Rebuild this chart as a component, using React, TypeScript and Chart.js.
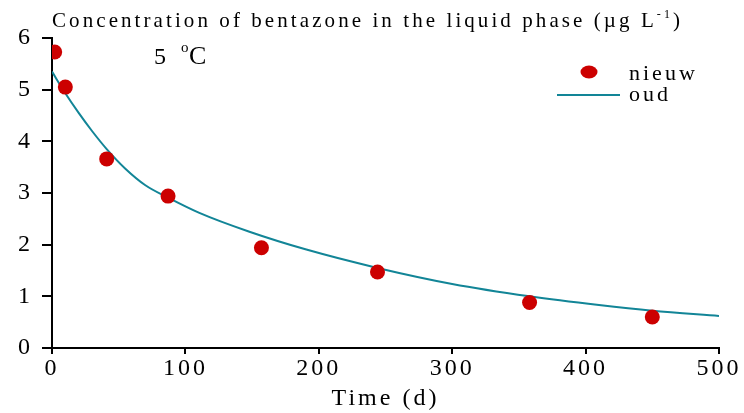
import React, { useEffect, useRef } from "react";
import { Chart, registerables } from "chart.js";

Chart.register(...registerables);

const titleMain = "Concentration of bentazone in the liquid phase (µg L";
const titleSup = "-1";
const titleEnd = ")";
const tempLabel = "5";
const seriesNames = ["nieuw", "oud"];
const xTicks = [0, 100, 200, 300, 400, 500];
const yTicks = [0, 1, 2, 3, 4, 5, 6];

// measured points (nieuw)
const nieuwT = [2, 10, 41, 87, 157, 244, 358, 450];
const nieuwC = [5.73, 5.05, 3.66, 2.94, 1.94, 1.47, 0.88, 0.6];

// fitted curve (oud)
const oudT = [0, 10, 20, 30, 41, 55, 70, 87, 110, 148, 190, 244, 300, 358, 410, 450, 500];
const oudC = [5.35, 4.93, 4.55, 4.2, 3.85, 3.47, 3.15, 2.91, 2.62, 2.25, 1.91, 1.55, 1.24, 1.0, 0.83, 0.72, 0.62];

const RED = "#cc0000";
const TEAL = "#128597";
const FONT = "'Liberation Serif', 'Times New Roman', serif";

const spacing = {
  id: "spacing",
  beforeUpdate(chart: any) {
    (chart.ctx as any).letterSpacing = "3px";
  },
  beforeDraw(chart: any) {
    (chart.ctx as any).letterSpacing = "3px";
  },
};

const overlay = {
  id: "overlay",
  afterDraw(chart: any) {
    const ctx = chart.ctx as any;
    ctx.save();
    ctx.fillStyle = "#000";
    ctx.textBaseline = "alphabetic";
    ctx.textAlign = "left";

    // title, spread to span 52..680
    ctx.letterSpacing = "0px";
    ctx.font = `21px ${FONT}`;
    const w1 = ctx.measureText(titleMain).width;
    ctx.font = `12px ${FONT}`;
    const ws = ctx.measureText(titleSup).width;
    ctx.font = `21px ${FONT}`;
    const we = ctx.measureText(titleEnd).width;
    const nChars = titleMain.length + titleSup.length + titleEnd.length - 1;
    const ls = (628 - (w1 + ws + we)) / nChars;
    ctx.letterSpacing = `${ls}px`;
    let x = 52;
    ctx.font = `21px ${FONT}`;
    ctx.fillText(titleMain, x, 27);
    x += ctx.measureText(titleMain).width;
    ctx.font = `12px ${FONT}`;
    ctx.fillText(titleSup, x, 18);
    x += ctx.measureText(titleSup).width;
    ctx.font = `21px ${FONT}`;
    ctx.fillText(titleEnd, x, 27);

    // temperature label
    ctx.letterSpacing = "0px";
    ctx.font = `24px ${FONT}`;
    ctx.fillText(tempLabel, 154, 64);
    ctx.font = `15px ${FONT}`;
    ctx.fillText("o", 181, 52);
    ctx.font = `26px ${FONT}`;
    ctx.fillText("C", 189, 64);

    // legend
    ctx.fillStyle = RED;
    ctx.beginPath();
    ctx.ellipse(589, 72, 8.5, 6.5, 0, 0, Math.PI * 2);
    ctx.fill();
    ctx.strokeStyle = TEAL;
    ctx.lineWidth = 2;
    ctx.beginPath();
    ctx.moveTo(557, 95);
    ctx.lineTo(620, 95);
    ctx.stroke();
    ctx.fillStyle = "#000";
    ctx.letterSpacing = "3px";
    ctx.font = `22px ${FONT}`;
    ctx.fillText(seriesNames[0], 629, 80);
    ctx.fillText(seriesNames[1], 629, 101);
    ctx.restore();
  },
};

export default function App() {
  const ref = useRef<HTMLCanvasElement>(null);
  useEffect(() => {
    document.body.style.margin = "0";
    const chart = new Chart(ref.current!, {
      type: "scatter",
      data: {
        datasets: [
          {
            label: seriesNames[1],
            data: oudT.map((t, i) => ({ x: t, y: oudC[i] })),
            showLine: true,
            borderColor: TEAL,
            borderWidth: 2,
            pointRadius: 0,
            cubicInterpolationMode: "monotone",
            order: 2,
          } as any,
          {
            label: seriesNames[0],
            data: nieuwT.map((t, i) => ({ x: t, y: nieuwC[i] })),
            backgroundColor: RED,
            borderColor: RED,
            borderWidth: 0,
            pointRadius: 7.5,
            pointStyle: "circle",
            order: 1,
          },
        ],
      },
      options: {
        animation: false,
        responsive: false,
        maintainAspectRatio: false,
        layout: { padding: { left: 0, top: 38, right: 25, bottom: 0 } },
        plugins: { legend: { display: false }, tooltip: { enabled: false }, title: { display: false } },
        scales: {
          x: {
            type: "linear",
            min: 0,
            max: 500,
            afterBuildTicks: (s: any) => { s.ticks = xTicks.map((v) => ({ value: v })); },
            afterFit: (s: any) => { s.height = 65; },
            grid: { drawOnChartArea: false, color: "#000", lineWidth: 2, tickLength: 6 },
            border: { color: "#000", width: 2 },
            ticks: { color: "#000", font: { family: FONT, size: 24 }, padding: 0, maxRotation: 0 },
            title: { display: true, text: "Time (d)", color: "#000", font: { family: FONT, size: 24 }, padding: { top: 0, bottom: 0 } },
          },
          y: {
            type: "linear",
            min: 0,
            max: 6,
            afterBuildTicks: (s: any) => { s.ticks = yTicks.map((v) => ({ value: v })); },
            afterFit: (s: any) => { s.width = 52; },
            grid: { drawOnChartArea: false, color: "#000", lineWidth: 2, tickLength: 10 },
            border: { color: "#000", width: 2 },
            ticks: { color: "#000", font: { family: FONT, size: 24 }, padding: 9 },
          },
        },
      },
      plugins: [spacing, overlay],
    });
    return () => chart.destroy();
  }, []);
  return (
    <div style={{ position: "relative", width: 744, height: 413 }}>
      <canvas ref={ref} width={744} height={413} style={{ width: 744, height: 413 }} />
    </div>
  );
}
